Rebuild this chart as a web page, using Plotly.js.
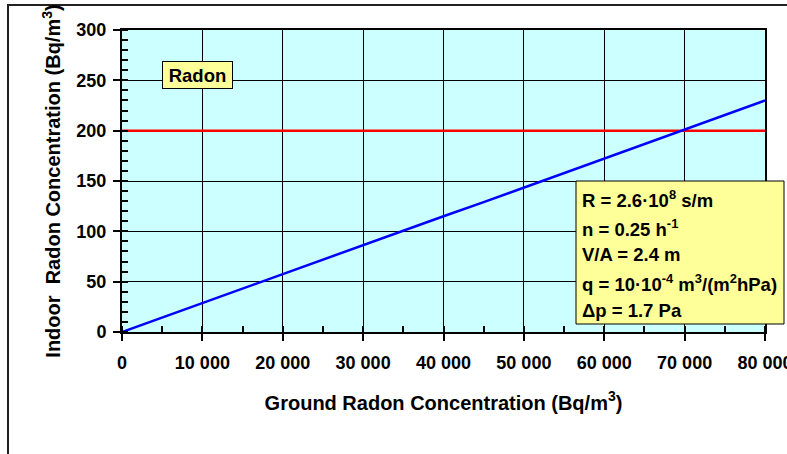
<!DOCTYPE html>
<html>
<head>
<meta charset="utf-8">
<script src="https://cdn.plot.ly/plotly-3.0.1.min.js"></script>
<style>html,body{margin:0;padding:0;background:#fff;}#chart{width:787px;height:454px;}</style>
</head>
<body>
<div id="chart"></div>
<script>
// Data
const groundRadon = [0, 5000, 10000, 15000, 20000, 25000, 30000, 35000, 40000, 45000, 50000, 55000, 60000, 65000, 70000, 75000, 80000];
const indoorRadon = [0, 14.4, 28.5, 43.5, 57.5, 71.8, 86, 101, 115, 129, 143.5, 157.8, 172, 187, 201, 215.5, 230];
const limitX = [0, 80000];
const limitY = [200, 200];
const chartLabel = "Radon";
const paramLines = [
  "R = 2.6·10<sup>8</sup> s/m",
  "n = 0.25 h<sup>-1</sup>",
  "V/A = 2.4 m",
  "q = 10·10<sup>-4</sup> m<sup>3</sup>/(m<sup>2</sup>hPa)",
  "Δp = 1.7 Pa"
];
const xTitle = "Ground Radon Concentration (Bq/m<sup>3</sup>)";
const yTitle = "Indoor  Radon Concentration (Bq/m<sup>3</sup>)";

const FONT = "Liberation Sans, Arial, sans-serif";

const traces = [
  {x: limitX, y: limitY, mode: 'lines', line: {color: '#FF0000', width: 2.5}, hoverinfo: 'skip', showlegend: false},
  {x: groundRadon, y: indoorRadon, mode: 'lines', line: {color: '#0000FF', width: 2.5}, showlegend: false}
];

// paper coords helpers for plot area l=122, r=765, t=30, b=332
const px = v => (v - 122) / 643;
const py = v => (332 - v) / 302;

const paramY = [199, 228, 255, 283, 310];
const annotations = [
  {xref: 'paper', yref: 'paper', x: px(197), y: py(75), text: chartLabel, showarrow: false,
   font: {family: FONT, size: 18.5, color: '#000', weight: 'bold'}, bgcolor: '#FFFF99', bordercolor: '#000', borderwidth: 1,
   borderpad: 3, width: 63, height: 20, xanchor: 'center', yanchor: 'middle'}
];
paramLines.forEach((t, i) => {
  annotations.push({xref: 'paper', yref: 'paper', x: px(580), y: py(paramY[i]), text: t, showarrow: false,
    xanchor: 'left', yanchor: 'middle', align: 'left', font: {family: FONT, size: 18.5, color: '#000', weight: 'bold'}});
});

const layout = {
  width: 787, height: 454,
  margin: {l: 122, r: 22, t: 30, b: 122},
  paper_bgcolor: '#FFFFFF', plot_bgcolor: '#CCFFFF',
  separators: '. ',
  font: {family: FONT, color: '#000'},
  xaxis: {
    range: [0, 80000], dtick: 10000, tickformat: ',d',
    showgrid: true, gridcolor: '#000', gridwidth: 1,
    zeroline: false, showline: true, linecolor: '#000', linewidth: 2, mirror: true,
    ticks: 'outside', ticklen: 7, tickwidth: 2, tickcolor: '#000', ticklabelstandoff: 6,
    ticklabeloverflow: 'allow',
    minor: {dtick: 5000, ticks: 'inside', ticklen: 6, tickwidth: 2, tickcolor: '#000', showgrid: false},
    tickfont: {family: FONT, size: 18, weight: 'bold'},
    title: {text: xTitle, font: {family: FONT, size: 20, weight: 'bold'}, standoff: 24},
    fixedrange: true
  },
  yaxis: {
    range: [0, 300], dtick: 50,
    showgrid: true, gridcolor: '#000', gridwidth: 1,
    zeroline: false, showline: true, linecolor: '#000', linewidth: 2, mirror: true,
    ticks: 'outside', ticklen: 7, tickwidth: 2, tickcolor: '#000', ticklabelstandoff: 3,
    ticklabeloverflow: 'allow',
    minor: {dtick: 10, ticks: 'inside', ticklen: 6, tickwidth: 2, tickcolor: '#000', showgrid: false},
    tickfont: {family: FONT, size: 18, weight: 'bold'},
    title: {text: yTitle, font: {family: FONT, size: 20, weight: 'bold'}, standoff: 10},
    fixedrange: true
  },
  shapes: [
    {type: 'rect', xref: 'paper', yref: 'paper', x0: px(576), x1: px(784), y0: py(324), y1: py(181),
     fillcolor: '#FFFF99', line: {color: '#000', width: 1}, layer: 'above'},
    {type: 'rect', xref: 'paper', yref: 'paper', x0: px(8), x1: px(900), y0: py(600), y1: py(5),
     fillcolor: 'rgba(0,0,0,0)', line: {color: '#222', width: 2}, layer: 'above'}
  ],
  annotations: annotations,
  showlegend: false
};

Plotly.newPlot('chart', traces, layout, {displayModeBar: false, staticPlot: true});
</script>
</body>
</html>
